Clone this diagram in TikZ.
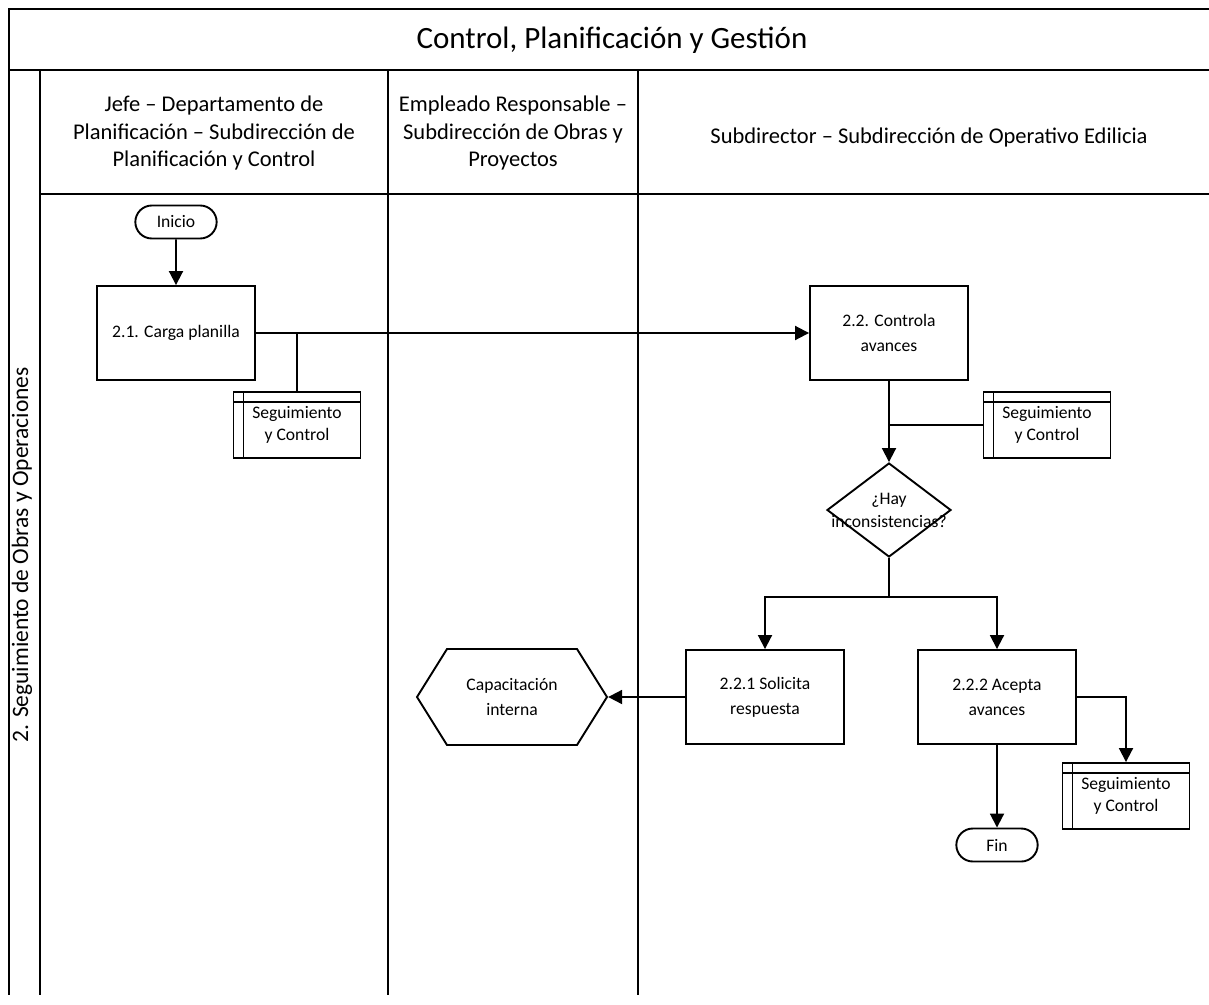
\documentclass[tikz,border=0pt]{standalone}
\usepackage{fontspec}
\setmainfont{Carlito}
\usetikzlibrary{arrows.meta, shapes.geometric, shapes.misc, shapes.symbols, positioning}

\begin{document}
\begin{tikzpicture}[x=1pt, y=-1pt, >={Triangle[length=14pt, width=14pt]}, line width=1.9pt,
    lane/.style={line width=1.7pt},
    process/.style={draw, rectangle, minimum width=158pt, minimum height=94pt, align=center,
        font=\fontsize{17.6}{25}\selectfont},
    terminal/.style={draw, rounded rectangle, minimum width=88pt, minimum height=33pt,
        font=\fontsize{17.6}{22}\selectfont},
    decision/.style={draw, diamond, minimum width=124pt, minimum height=94pt, inner sep=-16pt,
        align=center, font=\fontsize{17.6}{23}\selectfont},
    subproc/.style={draw, rectangle, minimum width=127pt, minimum height=66pt, align=center,
        font=\fontsize{17.6}{22}\selectfont,
        path picture={\draw ([xshift=10pt]path picture bounding box.north west) -- ([xshift=10pt]path picture bounding box.south west)
            ([yshift=-10pt]path picture bounding box.north west) -- ([yshift=-10pt]path picture bounding box.north east);}},
    display/.style={draw, signal, signal to=west and east, signal pointer angle=116, minimum width=190pt,
        minimum height=96pt, align=center, font=\fontsize{17.6}{25}\selectfont},
    header/.style={align=center, font=\fontsize{22.5}{27.5}\selectfont}]

    \fill[white] (0,0) rectangle (1209,1004);
    \useasboundingbox (0,0) rectangle (1209,1004);

    \draw[line width=2.4pt] (1209,9) -- (9,9) -- (9,995);
    \draw[lane] (9,70) -- (1209,70);
    \draw[lane] (40,70) -- (40,995);
    \draw[lane] (40,194) -- (1209,194);
    \draw[lane] (388,70) -- (388,995);
    \draw[lane] (638,70) -- (638,995);

    \node[font=\fontsize{31}{36}\selectfont] (titulo) at (612,40) {Control, Planificación y Gestión};
    \node[header] (jefe) at (214,133) {Jefe – Departamento de\\Planificación – Subdirección de\\Planificación y Control};
    \node[header] (empleado) at (513,133) {Empleado Responsable –\\Subdirección de Obras y\\Proyectos};
    \node[header] (subdirector) at (929,137) {Subdirector – Subdirección de Operativo Edilicia};
    \node[header, font=\fontsize{23.5}{28}\selectfont, rotate=90] (carril) at (22,555) {2. Seguimiento de Obras y Operaciones};

    \node[terminal] (inicio) at (176,222) {Inicio};
    \node[process] (carga) at (176,333) {2.1. Carga planilla};
    \node[subproc] (seg1) at (297,425) {Seguimiento\\y Control};
    \node[process] (controla) at (889,333) {2.2. Controla\\avances};
    \node[subproc] (seg2) at (1047,425) {Seguimiento\\y Control};
    \node[decision] (hay) at (889,510) {¿Hay\\inconsistencias?};
    \coordinate (split) at (889,597);
    \node[process] (solicita) at (765,697) {2.2.1 Solicita\\respuesta};
    \node[process] (acepta) at (997,697) {2.2.2 Acepta\\avances};
    \node[display] (capacita) at (512,697) {Capacitación\\interna};
    \node[subproc] (seg3) at (1126,796) {Seguimiento\\y Control};
    \node[terminal] (fin) at (997,845) {Fin};

    \draw[->] (inicio) -- (carga);
    \draw[->] (carga) -- (controla);
    \draw (seg1.north) -- (seg1.north |- carga.east);
    \draw[->] (controla) -- (hay);
    \draw (seg2.west) -- (controla.south |- seg2.west);
    \draw (hay.south) -- (split);
    \draw[->] (split) -| (solicita);
    \draw[->] (split) -| (acepta);
    \draw[->] (solicita) -- (capacita);
    \draw[->] (acepta) -| (seg3);
    \draw[->] (acepta) -- (fin);
\end{tikzpicture}
\end{document}
